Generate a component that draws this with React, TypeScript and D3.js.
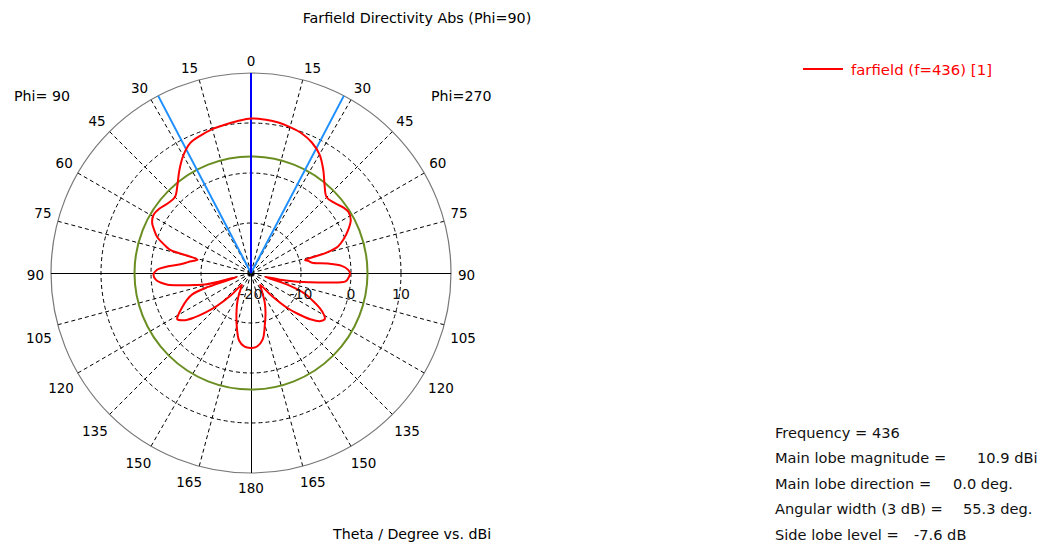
import React from "react";
import * as d3 from "d3";

// ---- data ----
const thetaPhi270 = [0, 5, 10, 15, 20, 25, 30, 35, 40, 45, 50, 55, 58, 62, 66, 70, 73, 75, 76.5, 78, 80.5, 83, 85.5, 88, 90, 93, 95, 97, 99, 101, 103, 105, 108, 111, 114, 117, 120, 122, 125, 128, 131, 134, 138, 142, 146, 150, 155, 160, 165, 170, 175, 180];
const dbPhi270 = [10.9, 10.8, 10.6, 10.2, 9.7, 8.8, 7.4, 5.2, 2.9, 1.4, 1.8, 2.7, 3.0, 2.6, 1.3, -0.3, -1.8, -4.5, -8.9, -8.3, -7.6, -4.5, -1.8, -0.6, -0.2, -0.5, -1.0, -4.5, -8.2, -11, -14, -17, -12, -8.5, -6.6, -4.6, -3.1, -2.6, -3.2, -5.0, -7.5, -10, -14, -17, -16.5, -15.5, -13.5, -11.5, -9.3, -6.5, -5.3, -5.0];

const thetaPhi90 = [0, 5, 10, 15, 20, 25, 30, 35, 40, 45, 50, 55, 59, 63, 66, 69, 72, 74, 76, 78, 80, 83, 86, 88, 91, 94, 96, 98, 100, 102, 104, 106, 108, 110, 113, 117, 120, 122, 125, 128, 131, 134, 138, 142, 146, 150, 155, 160, 165, 170, 175, 180];
const dbPhi90 = [10.9, 10.5, 10.1, 9.8, 9.3, 8.7, 7.1, 5.0, 2.9, 1.5, 1.7, 2.4, 2.7, 2.2, 1.2, 0.1, -1.8, -3.2, -9.0, -8.3, -7.3, -5.8, -2.8, -1.2, -0.5, -0.9, -1.8, -3.2, -6.0, -8.5, -10.5, -17, -11, -7.5, -6.0, -4.4, -3.2, -2.6, -3.5, -5.5, -8.0, -10.5, -14, -17, -16.5, -15.3, -13.5, -11.5, -9.0, -6.3, -5.2, -4.9];

const radialTicks = [-20, -10, 0, 10, 20];
const angleTicks = [0, 15, 30, 45, 60, 75, 90, 105, 120, 135, 150, 165, 180];

const mainLobeMag = 10.9;
const mainLobeDir = 0;
const angularWidth = 55.3;
const sideLobeLevel = -7.6;

const infoLabels = ["Frequency = 436", "Main lobe magnitude =", "Main lobe direction =", "Angular width (3 dB) =", "Side lobe level ="];
const infoValues = ["", "10.9 dBi", "0.0 deg.", "55.3 deg.", "-7.6 dB"];

export default function App() {
  const W = 1050, H = 548;
  const cx = 251, cy = 273, R = 200;
  const font = "'DejaVu Sans', Verdana, sans-serif";
  const r = d3.scaleLinear().domain([-20, 20]).range([0, R]).clamp(true);
  const rad = (deg: number) => (deg * Math.PI) / 180;

  const pts: { a: number; v: number }[] = [];
  thetaPhi270.forEach((t, i) => pts.push({ a: rad(t), v: dbPhi270[i] }));
  for (let i = thetaPhi90.length - 2; i >= 1; i--) {
    pts.push({ a: 2 * Math.PI - rad(thetaPhi90[i]), v: dbPhi90[i] });
  }
  const line = d3
    .lineRadial<{ a: number; v: number }>()
    .angle((d) => d.a)
    .radius((d) => r(d.v))
    .curve(d3.curveCatmullRomClosed.alpha(0.5));
  const pathD = line(pts) || "";

  const polar = (deg: number, rr: number) => [cx + rr * Math.sin(rad(deg)), cy - rr * Math.cos(rad(deg))];

  const spokeAngles = d3.range(0, 360, 15).filter((a) => a % 90 !== 0);
  const labelPos = (deg: number, txt: string) => {
    const w = (txt.length * 8.6) / 2;
    const h = 6.5;
    const abs = Math.abs(deg);
    let absAdj = abs;
    if (abs % 90 !== 0) {
      if (abs < 90) absAdj = abs + 1.8 * Math.cos(rad(2 * abs));
      else absAdj = abs - 1.8 * Math.cos(rad(2 * (180 - abs)));
    }
    const d2 = deg >= 0 ? absAdj : -absAdj;
    const rr = 207 + w * Math.abs(Math.sin(rad(d2))) + h * Math.abs(Math.cos(rad(d2)));
    const [x, y] = polar(d2, rr);
    return [x, y + 1.5];
  };

  const angleLabels: { deg: number; txt: string }[] = [];
  angleTicks.forEach((t) => {
    angleLabels.push({ deg: t, txt: String(t) });
    if (t !== 0 && t !== 180) angleLabels.push({ deg: -t, txt: String(t) });
  });

  const sll = mainLobeMag + sideLobeLevel;
  const [b1x, b1y] = polar(angularWidth / 2, R);
  const [b2x, b2y] = polar(-angularWidth / 2, R);
  const [mx, my] = polar(mainLobeDir, R);

  return (
    <svg width={W} height={H} style={{ position: "absolute", left: 0, top: 0, background: "#fff" }} fontFamily={font}>
      <rect x={0} y={0} width={W} height={H} fill="#fff" />
      <text x={417} y={23} textAnchor="middle" fontSize={14.3} fill="#000">Farfield Directivity Abs (Phi=90)</text>

      {/* grid */}
      {spokeAngles.map((a) => {
        const [x, y] = polar(a, R);
        return <line key={"s" + a} x1={cx} y1={cy} x2={x} y2={y} stroke="#000" strokeWidth={1} strokeDasharray="4,3" />;
      })}
      {radialTicks.slice(1, -1).map((v) => (
        <circle key={"c" + v} cx={cx} cy={cy} r={r(v)} fill="none" stroke="#000" strokeWidth={1} strokeDasharray="4,3" />
      ))}
      <circle cx={cx} cy={cy} r={R} fill="none" stroke="#777" strokeWidth={1.2} />
      <line x1={cx - R} y1={cy + 0.5} x2={cx + R} y2={cy + 0.5} stroke="#000" strokeWidth={1} shapeRendering="crispEdges" />
      <line x1={cx + 0.5} y1={cy} x2={cx + 0.5} y2={cy + R} stroke="#000" strokeWidth={1} shapeRendering="crispEdges" />

      {/* side lobe level circle */}
      <circle cx={cx} cy={cy} r={r(sll)} fill="none" stroke="#6b8e23" strokeWidth={2} />

      {/* beam lines */}
      <line x1={cx} y1={cy} x2={b1x} y2={b1y} stroke="#1e8fff" strokeWidth={2} />
      <line x1={cx} y1={cy} x2={b2x} y2={b2y} stroke="#1e8fff" strokeWidth={2} />
      <line x1={cx} y1={cy} x2={mx} y2={my} stroke="#0000ff" strokeWidth={2} />

      {/* pattern */}
      <path d={pathD} transform={`translate(${cx},${cy})`} fill="none" stroke="#ff0000" strokeWidth={2} />

      {/* radial labels */}
      {radialTicks.slice(0, -1).map((v) => (
        <text key={"rl" + v} x={cx + r(v)} y={299} textAnchor="middle" fontSize={14} fill="#111">{v}</text>
      ))}

      {/* angle labels */}
      {angleLabels.map((l) => {
        const [x, y] = labelPos(l.deg, l.txt);
        return (
          <text key={"al" + l.deg} x={x} y={y} textAnchor="middle" dominantBaseline="central" fontSize={13.5} fill="#000">{l.txt}</text>
        );
      })}

      <text x={14} y={101} fontSize={14.2} fill="#000">Phi= 90</text>
      <text x={431} y={101} fontSize={14.2} fill="#000">Phi=270</text>

      <text x={333} y={539} fontSize={14.2} fill="#000">Theta / Degree vs. dBi</text>

      {/* legend */}
      <line x1={803} y1={69} x2={843} y2={69} stroke="#ff0000" strokeWidth={2} />
      <text x={851} y={75} fontSize={14.9} fill="#ff0000">farfield (f=436) [1]</text>

      {/* info */}
      {infoLabels.map((t, i) => (
        <text key={"il" + i} x={775} y={438 + i * 25.4} fontSize={14.6} fill="#111">{t}</text>
      ))}
      {infoValues.map((t, i) =>
        t ? (
          <text key={"iv" + i} x={[0, 977, 953, 963, 914][i]} y={438 + i * 25.4} fontSize={14.6} fill="#111">{t}</text>
        ) : null
      )}
    </svg>
  );
}
